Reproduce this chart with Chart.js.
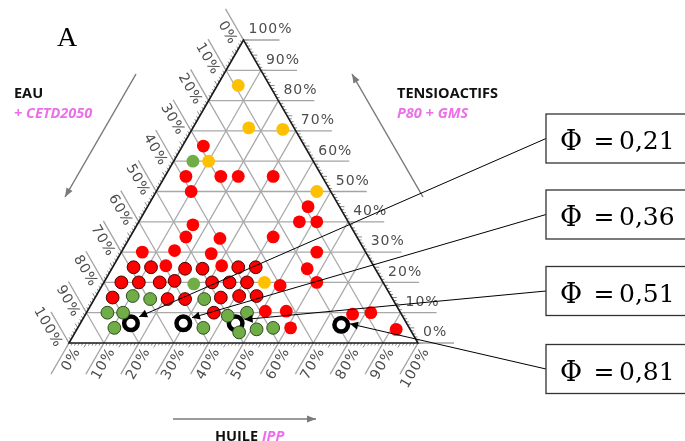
<!DOCTYPE html>
<html>
<head>
<meta charset="utf-8">
<script src="https://cdn.jsdelivr.net/npm/chart.js@4.4.1/dist/chart.umd.min.js"></script>
<style>
  html, body { margin: 0; padding: 0; background: #fff; }
  canvas { display: block; }
</style>
</head>
<body>
<canvas id="chart" width="685" height="441"></canvas>
<script>
// compositions in % : tensioactifs (T), huile (H); eau = 100 - T - H
const redTensio = [65, 55, 55, 55, 55, 50, 45, 39, 40, 40, 35, 34.5, 35, 30, 30.5, 29.5, 30,
  25, 25, 25.5, 24.5, 24.5, 25.5, 25, 25, 24.5, 20, 20, 20, 20.5, 20, 20, 20, 19, 20,
  15, 14.5, 14.5, 15, 15.5, 15.5, 10, 10.5, 10.5, 5, 9.5, 10, 4.5];
const redHuile = [6, 6, 16, 21, 31, 10, 46, 16, 46, 51, 16, 26, 41, 6, 15, 26, 56,
  6, 11, 15, 21, 26, 31, 36, 41, 56, 5, 10, 16, 20, 31, 36, 41, 51, 61,
  5, 21, 26, 36, 41, 46, 36.5, 51, 57, 61, 76.5, 81.5, 91.5];

const greenTensio = [60, 19.5, 15.5, 14.5, 14.5, 10, 10, 9, 10, 5, 5, 3.5, 4.5, 5];
const greenHuile = [5.5, 26, 10.5, 16, 31.5, 6, 10.5, 41, 46, 10.5, 36, 47, 51.5, 56];

const yellowTensio = [85, 71, 70.5, 60, 50, 20];
const yellowHuile = [6, 16, 26, 10, 46, 46];

const phiTensio = [6.5, 6.5, 6.5, 6];
const phiHuile = [14.5, 29.5, 44.5, 75];
const phiLabels = ['0,21', '0,36', '0,51', '0,81'];

const axisTicks = [0, 10, 20, 30, 40, 50, 60, 70, 80, 90, 100];
const axisLabels = ['0%', '10%', '20%', '30%', '40%', '50%', '60%', '70%', '80%', '90%', '100%'];

const H3 = Math.sqrt(3) / 2;
const MAGENTA = '#ec6fe9';

function ternary(t, h) {
    return { x: (h + t / 2) / 100, y: t / 100 * H3, t: t, h: h };
}
function series(ts, hs) {
    return ts.map((t, i) => ternary(t, hs[i]));
}
function pix(chart, t, h) {
    const p = ternary(t, h);
    return [chart.scales.x.getPixelForValue(p.x), chart.scales.y.getPixelForValue(p.y)];
}

function line(ctx, a, b) {
    ctx.beginPath();
    ctx.moveTo(a[0], a[1]);
    ctx.lineTo(b[0], b[1]);
    ctx.stroke();
}
function arrowHead(ctx, from, to, len, half) {
    const dx = to[0] - from[0], dy = to[1] - from[1];
    const d = Math.hypot(dx, dy), ux = dx / d, uy = dy / d;
    ctx.beginPath();
    ctx.moveTo(to[0], to[1]);
    ctx.lineTo(to[0] - ux * len - uy * half, to[1] - uy * len + ux * half);
    ctx.lineTo(to[0] - ux * len + uy * half, to[1] - uy * len - ux * half);
    ctx.closePath();
    ctx.fill();
}
function rotatedText(ctx, p, angle, align, dx, dy, text) {
    ctx.save();
    ctx.translate(p[0], p[1]);
    ctx.rotate(angle);
    ctx.textAlign = align;
    ctx.textBaseline = 'middle';
    ctx.fillText(text, dx, dy);
    ctx.restore();
}

// grid, axis ticks and labels of the triangle
const ternaryGrid = {
    id: 'ternaryGrid',
    beforeDatasetsDraw(chart) {
        const ctx = chart.ctx;
        ctx.save();
        ctx.lineCap = 'butt';

        // inner grid
        ctx.strokeStyle = '#a9a9a9';
        ctx.lineWidth = 1.3;
        axisTicks.slice(1, -1).forEach(k => {
            line(ctx, pix(chart, k, 0), pix(chart, k, 100 - k));
            line(ctx, pix(chart, 0, k), pix(chart, 100 - k, k));
            line(ctx, pix(chart, 0, 100 - k), pix(chart, 100 - k, 0));
        });

        const L = 36;
        const up = [-0.5, -H3], down = [-0.5, H3];

        // minor ticks
        ctx.strokeStyle = '#6a6a6a';
        ctx.lineWidth = 0.8;
        for (let i = 0; i <= 100; i++) {
            const len = i % 5 === 0 ? 5 : 3;
            let p = pix(chart, i, 100 - i);
            line(ctx, p, [p[0] + len, p[1]]);
            p = pix(chart, 100 - i, 0);
            line(ctx, p, [p[0] + up[0] * len, p[1] + up[1] * len]);
            p = pix(chart, 0, i);
            line(ctx, p, [p[0] + down[0] * len, p[1] + down[1] * len]);
        }

        // extension lines
        ctx.strokeStyle = '#a3a3a3';
        ctx.lineWidth = 1.3;
        axisTicks.forEach(k => {
            let p = pix(chart, k, 100 - k);
            line(ctx, p, [p[0] + L, p[1]]);
            p = pix(chart, 100 - k, 0);
            line(ctx, p, [p[0] + up[0] * L, p[1] + up[1] * L]);
            p = pix(chart, 0, k);
            line(ctx, p, [p[0] + down[0] * L, p[1] + down[1] * L]);
        });

        // triangle outline
        ctx.strokeStyle = '#1a1a1a';
        ctx.lineWidth = 1.6;
        const a = pix(chart, 100, 0), b = pix(chart, 0, 0), c = pix(chart, 0, 100);
        ctx.beginPath();
        ctx.moveTo(a[0], a[1]);
        ctx.lineTo(b[0], b[1]);
        ctx.lineTo(c[0], c[1]);
        ctx.closePath();
        ctx.stroke();

        // tick labels
        ctx.fillStyle = '#4d4d4d';
        ctx.font = '14px "DejaVu Sans"';
        ctx.letterSpacing = '1px';
        axisTicks.forEach((k, i) => {
            const txt = axisLabels[i];
            rotatedText(ctx, pix(chart, k, 100 - k), 0, 'left', 5, -10.3, txt);
            rotatedText(ctx, pix(chart, 100 - k, 0), Math.PI / 3, 'right', -2, 10.5, txt);
            rotatedText(ctx, pix(chart, 0, k), -Math.PI / 3, 'right', -1, 10.3, txt);
        });
        ctx.restore();
    }
};

// titles, direction arrows and the phi call-outs
const callouts = {
    id: 'callouts',
    afterDatasetsDraw(chart) {
        const ctx = chart.ctx;
        ctx.save();

        ctx.fillStyle = '#000';
        ctx.font = '28px "Liberation Serif"';
        ctx.fillText('A', 57, 46);

        ctx.font = 'bold 14.5px "Open Sans"';
        ctx.fillStyle = '#111';
        ctx.fillText('EAU', 14, 98);
        ctx.fillText('TENSIOACTIFS', 397, 97.5);
        ctx.fillText('HUILE', 215, 441);
        const hw = ctx.measureText('HUILE ').width;
        ctx.font = 'italic bold 14.5px "Open Sans"';
        ctx.fillStyle = MAGENTA;
        ctx.fillText('+ CETD2050', 14, 118);
        ctx.fillText('P80 + GMS', 397, 118);
        ctx.fillText('IPP', 215 + hw, 441);

        // component direction arrows
        ctx.strokeStyle = '#7a7a7a';
        ctx.fillStyle = '#7a7a7a';
        ctx.lineWidth = 1.5;
        [[[136, 74], [65, 197]], [[423, 197], [352, 74]], [[173, 419], [316, 419]]].forEach(s => {
            line(ctx, s[0], s[1]);
            arrowHead(ctx, s[0], s[1], 9, 3.5);
        });

        // phi boxes with arrows to the marked compositions
        const boxX = 546, boxH = 49;
        const boxMid = [138.5, 214.5, 291, 369];
        phiLabels.forEach((lab, i) => {
            const c = pix(chart, phiTensio[i], phiHuile[i]);
            const start = [boxX, boxMid[i]];
            const aim = [c[0], c[1] - 3];
            const dx = start[0] - aim[0], dy = start[1] - aim[1], d = Math.hypot(dx, dy);
            const tip = [aim[0] + dx / d * 9, aim[1] + dy / d * 9];
            ctx.strokeStyle = '#000';
            ctx.fillStyle = '#000';
            ctx.lineWidth = 1;
            line(ctx, start, tip);
            arrowHead(ctx, start, tip, 8, 4);

            ctx.fillStyle = '#fff';
            ctx.fillRect(boxX, boxMid[i] - boxH / 2, 160, boxH);
            ctx.strokeStyle = '#333';
            ctx.lineWidth = 1.3;
            ctx.strokeRect(boxX, boxMid[i] - boxH / 2, 160, boxH);

            ctx.fillStyle = '#000';
            ctx.textBaseline = 'alphabetic';
            const base = boxMid[i] + 10.5;
            ctx.font = '27px "DejaVu Serif"';
            ctx.textAlign = 'center';
            ctx.fillText('\u03A6', 571, base + 1);
            ctx.font = '25px "DejaVu Serif"';
            ctx.fillText('=', 604, base);
            ctx.textAlign = 'left';
            ctx.fillText(lab, 619, base);
        });
        ctx.restore();
    }
};

function outlinedRed(c) {
    const r = c.raw;
    return r && r.t <= 25 && r.h <= 46;
}
function outlinedGreen(c) {
    const r = c.raw;
    return r && r.t <= 16;
}

new Chart(document.getElementById('chart'), {
    type: 'scatter',
    data: {
        datasets: [
            {
                label: 'rouge',
                data: series(redTensio, redHuile),
                backgroundColor: '#ff0000',
                borderColor: c => outlinedRed(c) ? '#4a0000' : '#ff0000',
                borderWidth: c => outlinedRed(c) ? 1 : 0,
                pointRadius: 6.4
            },
            {
                label: 'vert',
                data: series(greenTensio, greenHuile),
                backgroundColor: '#70ad47',
                borderColor: c => outlinedGreen(c) ? '#2f4a1e' : '#70ad47',
                borderWidth: c => outlinedGreen(c) ? 1 : 0,
                pointRadius: 6.4
            },
            {
                label: 'jaune',
                data: series(yellowTensio, yellowHuile),
                backgroundColor: '#ffc000',
                borderWidth: 0,
                pointRadius: 6.4
            },
            {
                label: 'phi',
                data: series(phiTensio, phiHuile),
                backgroundColor: '#ffffff',
                borderColor: '#000000',
                borderWidth: 4.5,
                pointRadius: 6.8
            }
        ]
    },
    options: {
        responsive: false,
        animation: false,
        events: [],
        clip: false,
        layout: { padding: { left: 69, right: 267, top: 40, bottom: 98 } },
        scales: {
            x: { type: 'linear', min: 0, max: 1, display: false },
            y: { type: 'linear', min: 0, max: H3, display: false }
        },
        plugins: {
            legend: { display: false },
            tooltip: { enabled: false }
        }
    },
    plugins: [ternaryGrid, callouts]
});
</script>
</body>
</html>
